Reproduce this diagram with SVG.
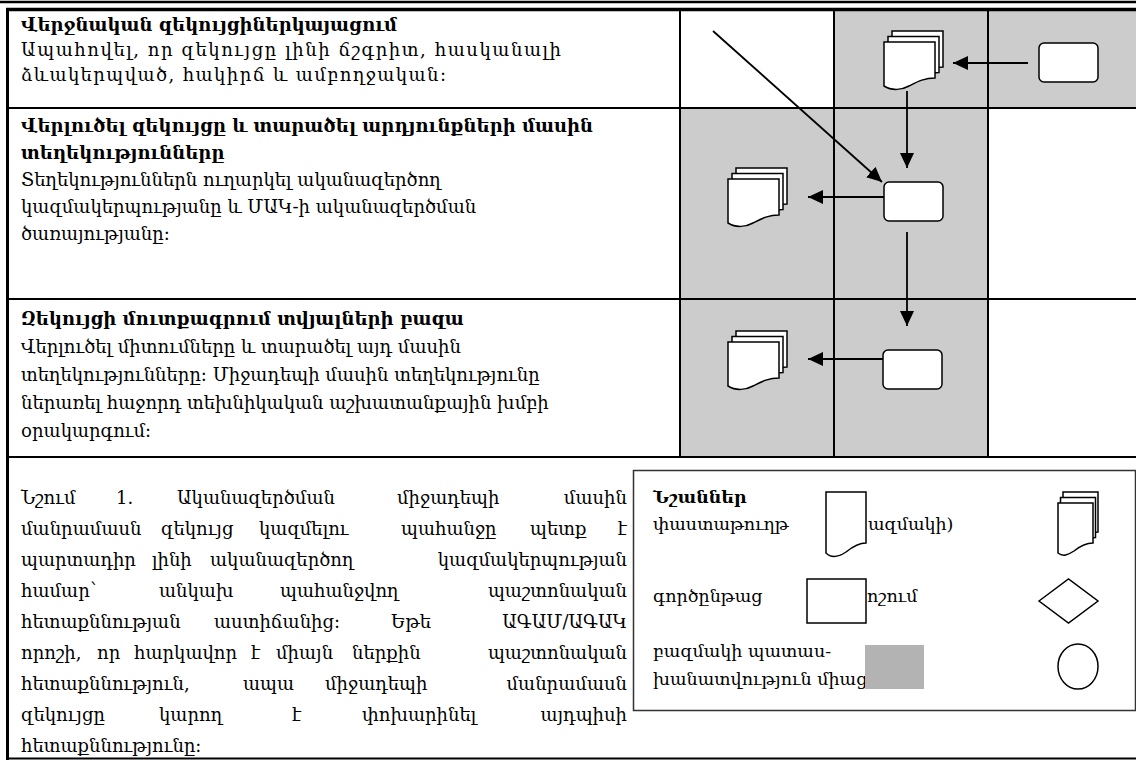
<svg xmlns="http://www.w3.org/2000/svg" width="1136" height="760" viewBox="0 0 1136 760">
<style>
.t{font-family:"DejaVu Serif","Noto Sans",serif;font-size:18px;fill:#000}
.b{font-weight:bold}
.lg{font-family:"DejaVu Serif","Noto Sans",serif;font-size:17.5px;fill:#000}
.ln{stroke:#000;stroke-width:2;fill:none}
.sh{fill:#fff;stroke:#000;stroke-width:1.5}
.cn{stroke:#000;stroke-width:1.8;fill:none;marker-end:url(#ah)}
.gr{fill:#cccccc}
</style>
<defs>
<marker id="ah" markerUnits="userSpaceOnUse" markerWidth="16" markerHeight="14" refX="15" refY="7" orient="auto">
<path d="M0,0 L15,7 L0,14 Z" fill="#000"/>
</marker>
<path id="doc" d="M0,0 H51 V36 C40,36 33,40 25,44 C18,48 8,49 0,44 Z"/>
</defs>
<rect width="1136" height="760" fill="#fff"/>
<g id="shading">
<rect class="gr" x="834" y="10" width="302" height="98"/>
<rect class="gr" x="680" y="108" width="308" height="349"/>
</g>
<g id="table">
<line x1="0" y1="2" x2="1136" y2="2" stroke="#000" stroke-width="2.5"/>
<line x1="6" y1="9.5" x2="1136" y2="9.5" stroke="#000" stroke-width="3.5"/>
<line x1="7.5" y1="8" x2="7.5" y2="760" stroke="#000" stroke-width="3"/>
<line class="ln" x1="7" y1="108" x2="1136" y2="108"/>
<line class="ln" x1="7" y1="299" x2="1136" y2="299"/>
<line class="ln" x1="7" y1="457" x2="1136" y2="457"/>
<line class="ln" x1="7" y1="758.5" x2="1136" y2="758.5"/>
<line class="ln" x1="680" y1="10" x2="680" y2="457"/>
<line class="ln" x1="834" y1="10" x2="834" y2="457"/>
<line class="ln" x1="988" y1="10" x2="988" y2="457"/>
</g>
<g id="text-row1">
<text class="t b" x="21" y="31">Վերջնական զեկույցիներկայացում</text>
<text class="t" x="21" y="56" textLength="540" lengthAdjust="spacing">Ապահովել, որ զեկույցը լինի ճշգրիտ, հասկանալի</text>
<text class="t" x="21" y="81" textLength="425" lengthAdjust="spacing">ձևակերպված, հակիրճ և ամբողջական:</text>
</g>
<g id="text-row2">
<text class="t b" x="21" y="132">Վերլուծել զեկույցը և տարածել արդյունքների մասին</text>
<text class="t b" x="21" y="159">տեղեկությունները</text>
<text class="t" x="21" y="186">Տեղեկություններն ուղարկել ականազերծող</text>
<text class="t" x="21" y="213">կազմակերպությանը և ՄԱԿ-ի ականազերծման</text>
<text class="t" x="21" y="240">ծառայությանը:</text>
</g>
<g id="text-row3">
<text class="t b" x="21" y="325">Զեկույցի մուտքագրում տվյալների բազա</text>
<text class="t" x="21" y="353">Վերլուծել միտումները և տարածել այդ մասին</text>
<text class="t" x="21" y="381">տեղեկությունները: Միջադեպի մասին տեղեկությունը</text>
<text class="t" x="21" y="409">ներառել հաջորդ տեխնիկական աշխատանքային խմբի</text>
<text class="t" x="21" y="437">օրակարգում:</text>
</g>
<g id="note">
<text class="t" y="504"><tspan x="21">Նշում</tspan><tspan x="116">1.</tspan><tspan x="177">Ականազերծման</tspan><tspan x="397">միջադեպի</tspan><tspan x="627" text-anchor="end">մասին</tspan></text>
<text class="t" y="535"><tspan x="21">մանրամասն</tspan><tspan x="161">զեկույց</tspan><tspan x="259">կազմելու</tspan><tspan x="401">պահանջը</tspan><tspan x="530">պետք</tspan><tspan x="627" text-anchor="end">է</tspan></text>
<text class="t" y="566"><tspan x="21">պարտադիր</tspan><tspan x="152">լինի</tspan><tspan x="210">ականազերծող</tspan><tspan x="627" text-anchor="end">կազմակերպության</tspan></text>
<text class="t" y="597"><tspan x="21">համար`</tspan><tspan x="159">անկախ</tspan><tspan x="280">պահանջվող</tspan><tspan x="627" text-anchor="end">պաշտոնական</tspan></text>
<text class="t" y="628"><tspan x="21">հետաքննության</tspan><tspan x="214">աստիճանից:</tspan><tspan x="391">Եթե</tspan><tspan x="627" text-anchor="end">ԱԳԱՄ/ԱԳԱԿ</tspan></text>
<text class="t" y="659"><tspan x="21">որոշի,</tspan><tspan x="97">որ</tspan><tspan x="134">հարկավոր</tspan><tspan x="251">է</tspan><tspan x="276">միայն</tspan><tspan x="352">ներքին</tspan><tspan x="627" text-anchor="end">պաշտոնական</tspan></text>
<text class="t" y="690"><tspan x="21">հետաքննություն,</tspan><tspan x="243">ապա</tspan><tspan x="325">միջադեպի</tspan><tspan x="627" text-anchor="end">մանրամասն</tspan></text>
<text class="t" y="721"><tspan x="21">զեկույցը</tspan><tspan x="159">կարող</tspan><tspan x="292">է</tspan><tspan x="362">փոխարինել</tspan><tspan x="627" text-anchor="end">այդպիսի</tspan></text>
<text class="t" x="21" y="752">հետաքննությունը:</text>
</g>
<g id="connectors">
<line class="cn" x1="713" y1="31" x2="882" y2="182"/>
<line class="cn" x1="1028" y1="63" x2="953" y2="63"/>
<line class="cn" x1="907" y1="91" x2="907" y2="168"/>
<line class="cn" x1="884" y1="197" x2="808" y2="197"/>
<line class="cn" x1="907" y1="232" x2="907" y2="326"/>
<line class="cn" x1="883" y1="359" x2="808" y2="359"/>
</g>
<g id="node-process-top">
<rect class="sh" x="1039" y="43" width="59" height="39" rx="5"/>
</g>
<g id="node-docs-top">
<use href="#doc" class="sh" x="892" y="31"/>
<use href="#doc" class="sh" x="888" y="36.5"/>
<use href="#doc" class="sh" x="884" y="42"/>
</g>
<g id="node-process-mid">
<rect class="sh" x="884" y="182" width="59" height="39" rx="5"/>
</g>
<g id="node-docs-mid">
<use href="#doc" class="sh" x="736" y="168"/>
<use href="#doc" class="sh" x="732" y="173.5"/>
<use href="#doc" class="sh" x="728" y="179"/>
</g>
<g id="node-process-low">
<rect class="sh" x="883" y="350" width="59" height="39" rx="5"/>
</g>
<g id="node-docs-low">
<use href="#doc" class="sh" x="736" y="331"/>
<use href="#doc" class="sh" x="732" y="336.5"/>
<use href="#doc" class="sh" x="728" y="342"/>
</g>
<g id="legend">
<rect x="633.5" y="470.5" width="502" height="240" fill="#fff" stroke="#333" stroke-width="1.5"/>
<text class="lg b" x="653" y="503">Նշաններ</text>
<text class="lg" x="653" y="530">փաստաթուղթ</text>
<text class="lg" x="868" y="530">ազմակի)</text>
<text class="lg" x="653" y="602">գործընթաց</text>
<text class="lg" x="867" y="602">ոշում</text>
<text class="lg" x="653" y="657">բազմակի պատաս-</text>
<text class="lg" x="653" y="685">խանատվություն միաց</text>
<path class="sh" d="M826,492 H866 V543 C858,543 851,548 846,552 C840,556 832,559 826,553 Z"/>
<path class="sh" d="M1063,492 H1098 V532 C1090,532 1084,536 1079,540 C1073,544 1068,546 1063,542 Z"/>
<path class="sh" d="M1060.5,497.5 H1095.5 V537.5 C1087.5,537.5 1081.5,541.5 1076.5,545.5 C1070.5,549.5 1065.5,551.5 1060.5,547.5 Z"/>
<path class="sh" d="M1058,503 H1093 V543 C1085,543 1079,547 1074,551 C1068,555 1063,557 1058,553 Z"/>
<rect class="sh" x="807" y="579" width="59" height="44"/>
<polygon class="sh" points="1039,601 1068.5,579 1098,601 1068.5,623"/>
<rect x="865" y="645" width="59" height="44" fill="#b3b3b3"/>
<ellipse class="sh" cx="1078" cy="666.5" rx="20" ry="22.5"/>
</g>
</svg>
